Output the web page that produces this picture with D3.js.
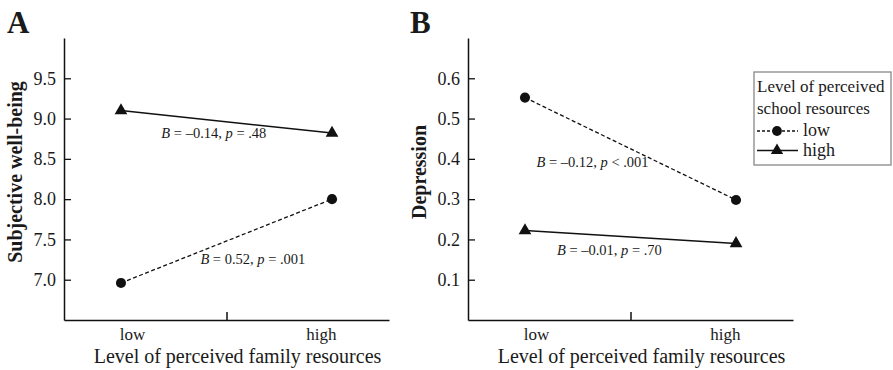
<!DOCTYPE html>
<html>
<head>
<meta charset="utf-8">
<script src="https://cdn.jsdelivr.net/npm/d3@7"></script>
<style>
  body { margin: 0; background: #fff; }
  text { font-family: "Liberation Serif", "Times New Roman", serif; fill: #1a1a1a; }
</style>
</head>
<body>
<script>
const width = 893;
const height = 370;

// x categories
const levels = ["low", "high"];

// panel A: subjective well-being
const wellLow = [6.96, 8.0];   // low school resources
const wellHigh = [9.1, 8.82];  // high school resources
const wellTicks = [7.0, 7.5, 8.0, 8.5, 9.0, 9.5];

// panel B: depression
const depLow = [0.552, 0.298];
const depHigh = [0.222, 0.19];
const depTicks = [0.1, 0.2, 0.3, 0.4, 0.5, 0.6];

const panels = [
  {
    letter: "A",
    left: 64,
    yTitle: "Subjective well-being",
    domain: [6.5, 10.0],
    ticks: wellTicks,
    series: [
      { name: "low", values: wellLow, dashed: true, shape: d3.symbolCircle },
      { name: "high", values: wellHigh, dashed: false, shape: d3.symbolTriangle },
    ],
    // t = fraction from low to high, v = value of the baseline
    notes: [
      { t: 0.44, v: 8.755, b: "\u20130.14", op: "=", p: ".48" },
      { t: 0.625, v: 7.2, b: "0.52", op: "=", p: ".001" },
    ],
  },
  {
    letter: "B",
    left: 468,
    yTitle: "Depression",
    domain: [0, 0.7],
    ticks: depTicks,
    series: [
      { name: "low", values: depLow, dashed: true, shape: d3.symbolCircle },
      { name: "high", values: depHigh, dashed: false, shape: d3.symbolTriangle },
    ],
    notes: [
      { t: 0.32, v: 0.38, b: "\u20130.12", op: "<", p: ".001" },
      { t: 0.4, v: 0.1625, b: "\u20130.01", op: "=", p: ".70" },
    ],
  },
];

const yTop = 38;
const yBottom = 320;
const axisW = 325;

const svg = d3
  .select("body")
  .append("svg")
  .attr("width", width)
  .attr("height", height);

const drawPanel = (pnl) => {
  const g = svg.append("g").attr("transform", "translate(" + pnl.left + ",0)");

  const xScale = d3.scalePoint().domain(levels).range([0, axisW]).padding(0.27);
  const xLabels = d3.scalePoint().domain(levels).range([0, axisW]).padding(0.36);
  const yScale = d3.scaleLinear().domain(pnl.domain).range([yBottom, yTop]);

  // y axis, ticks pointing inward
  const yAxis = d3
    .axisLeft(yScale)
    .tickValues(pnl.ticks)
    .tickFormat(d3.format(".1f"))
    .tickSizeInner(-7)
    .tickSizeOuter(0)
    .tickPadding(8);
  const gy = g.append("g").call(yAxis);
  gy.select(".domain").attr("stroke", "#111").attr("stroke-width", 1.5);
  gy.selectAll(".tick line").attr("stroke", "#111").attr("stroke-width", 1.3);
  gy.selectAll(".tick text")
    .attr("font-family", "Liberation Serif")
    .attr("font-size", 18)
    .attr("fill", "#1a1a1a");

  // x axis line with one middle tick pointing up
  const mid = d3.scaleLinear().domain([0, 1]).range([0, axisW]);
  const gx = g
    .append("g")
    .attr("transform", "translate(0," + yBottom + ")")
    .call(d3.axisTop(mid).tickValues([0.5]).tickFormat("").tickSizeInner(8).tickSizeOuter(0));
  gx.select(".domain").attr("stroke", "#111").attr("stroke-width", 1.5);
  gx.selectAll(".tick line").attr("stroke", "#111").attr("stroke-width", 1.5);

  // category labels
  const gl = g
    .append("g")
    .attr("transform", "translate(0," + yBottom + ")")
    .call(d3.axisBottom(xLabels).tickSize(0).tickPadding(8));
  gl.select(".domain").remove();
  gl.selectAll(".tick text")
    .attr("font-family", "Liberation Serif")
    .attr("font-size", 17)
    .attr("fill", "#1a1a1a")
    .attr("dy", null)
    .attr("y", 20);

  // axis titles
  g.append("text")
    .attr("x", axisW / 2 + 11)
    .attr("y", 363)
    .attr("text-anchor", "middle")
    .attr("font-size", 20)
    .text("Level of perceived family resources");

  g.append("text")
    .attr("transform", "translate(" + (-42) + "," + 172 + ") rotate(-90)")
    .attr("text-anchor", "middle")
    .attr("font-size", 20)
    .attr("font-weight", "bold")
    .text(pnl.yTitle);

  g.append("text")
    .attr("x", pnl.letter === "A" ? -57 : -58)
    .attr("y", 33)
    .attr("font-size", 31)
    .attr("font-weight", "bold")
    .attr("fill", "#000")
    .text(pnl.letter);

  // lines and markers
  const line = d3
    .line()
    .x((d, i) => xScale(levels[i]))
    .y((d) => yScale(d));

  pnl.series.forEach((s) => {
    g.append("path")
      .datum(s.values)
      .attr("d", line)
      .attr("fill", "none")
      .attr("stroke", "#111")
      .attr("stroke-width", s.dashed ? 1.3 : 1.6)
      .attr("stroke-dasharray", s.dashed ? "4,2.5" : null);

    g.selectAll(null)
      .data(s.values)
      .enter()
      .append("path")
      .attr("d", d3.symbol().type(s.shape).size(s.shape === d3.symbolCircle ? 80 : 70))
      .attr("transform", (d, i) => "translate(" + xScale(levels[i]) + "," + yScale(d) + ")")
      .attr("fill", "#111");
  });

  // regression notes
  const x0 = xScale("low");
  const x1 = xScale("high");
  pnl.notes.forEach((n) => {
    const t = g
      .append("text")
      .attr("x", x0 + n.t * (x1 - x0))
      .attr("y", yScale(n.v))
      .attr("text-anchor", "middle")
      .attr("font-size", 14.5)
      .attr("fill", "#333");
    t.append("tspan").attr("font-style", "italic").text("B");
    t.append("tspan").text(" = " + n.b + ", ");
    t.append("tspan").attr("font-style", "italic").text("p");
    t.append("tspan").text(" " + n.op + " " + n.p);
  });
};

panels.forEach(drawPanel);

// legend for panel B
const legendItems = [
  { name: "low", dashed: true, shape: d3.symbolCircle },
  { name: "high", dashed: false, shape: d3.symbolTriangle },
];

const legend = svg.append("g").attr("transform", "translate(754,72)");
legend
  .append("rect")
  .attr("width", 137)
  .attr("height", 93)
  .attr("fill", "#fff")
  .attr("stroke", "#888")
  .attr("stroke-width", 1.3);

["Level of perceived", "school resources"].forEach((txt, i) => {
  legend
    .append("text")
    .attr("x", 3)
    .attr("y", 20 + i * 21.5)
    .attr("font-size", 17)
    .text(txt);
});

legendItems.forEach((it, i) => {
  const y = 59 + i * 19.5;
  legend
    .append("line")
    .attr("x1", 3)
    .attr("x2", 44)
    .attr("y1", y)
    .attr("y2", y)
    .attr("stroke", "#111")
    .attr("stroke-width", it.dashed ? 1.3 : 1.6)
    .attr("stroke-dasharray", it.dashed ? "3,2" : null);
  legend
    .append("path")
    .attr("d", d3.symbol().type(it.shape).size(it.shape === d3.symbolCircle ? 75 : 65))
    .attr("transform", "translate(23," + y + ")")
    .attr("fill", "#111");
  legend
    .append("text")
    .attr("x", 49)
    .attr("y", y + 5)
    .attr("font-size", 18)
    .text(it.name);
});
</script>
</body>
</html>
